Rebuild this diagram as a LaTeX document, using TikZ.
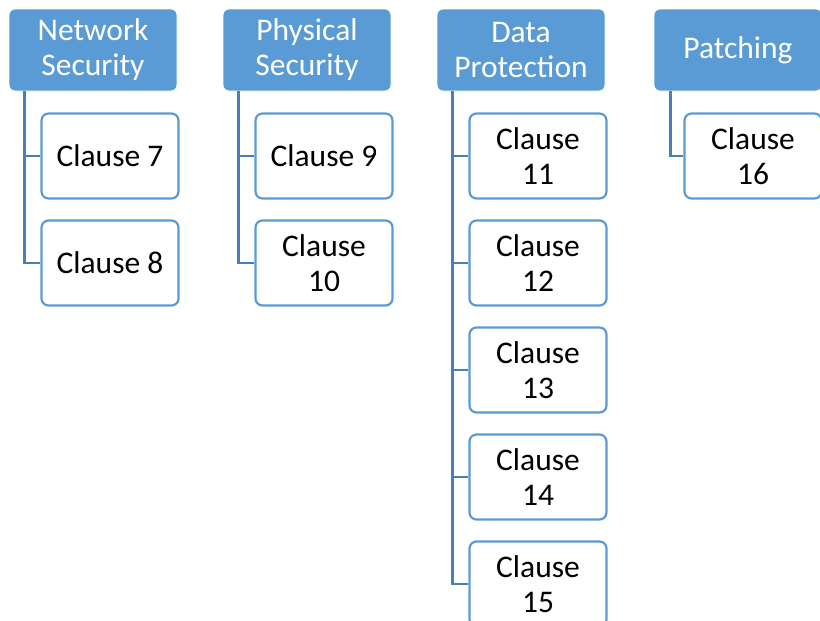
\documentclass[tikz,border=0pt]{standalone}
\usepackage{fontspec}
\setmainfont{Carlito}
\definecolor{hdrblue}{HTML}{5B9BD5}
\definecolor{linkblue}{HTML}{4A7EBB}
\begin{document}
\begin{tikzpicture}[x=1pt,y=-1pt,
  header/.style={rectangle, rounded corners=6pt, fill=hdrblue, draw=white, line width=0.8pt,
    minimum width=168pt, minimum height=82pt, inner sep=0pt, align=center,
    text=white, font=\fontsize{31.5}{35}\selectfont},
  clause/.style={rectangle, rounded corners=7pt, fill=white, draw=hdrblue, line width=2.2pt,
    minimum width=137pt, minimum height=85pt, inner sep=0pt, align=center,
    text=black, font=\fontsize{31.5}{35}\selectfont},
  link/.style={draw=linkblue, line width=2.4pt}]
\useasboundingbox (0,0) rectangle (820,621);
\clip (0,0) rectangle (820,621);

% category headers
\node[header] (net)  at (93,50)  {Network\\Security};
\node[header] (phys) at (307,50) {Physical\\Security};
\node[header] (data) at (521,50) {Data\\Protection};
\node[header] (patch) at (738,50) {Patching};

% clause boxes
\node[clause] (c7)  at (110,156) {Clause 7};
\node[clause] (c8)  at (110,263) {Clause 8};
\node[clause] (c9)  at (324,156) {Clause 9};
\node[clause] (c10) at (324,263) {Clause\\10};
\node[clause] (c11) at (538,156) {Clause\\11};
\node[clause] (c12) at (538,263) {Clause\\12};
\node[clause] (c13) at (538,370) {Clause\\13};
\node[clause] (c14) at (538,477) {Clause\\14};
\node[clause] (c15) at (538,584) {Clause\\15};
\node[clause] (c16) at (753,156) {Clause\\16};

% elbow connectors from each header to its clauses
\foreach \h/\c in {net/c7, net/c8, phys/c9, phys/c10,
                   data/c11, data/c12, data/c13, data/c14, data/c15}
  \draw[link] ([xshift=16pt]\h.south west) |- (\c.west);
\draw[link] ([xshift=17pt]patch.south west) |- (c16.west);
\end{tikzpicture}
\end{document}
